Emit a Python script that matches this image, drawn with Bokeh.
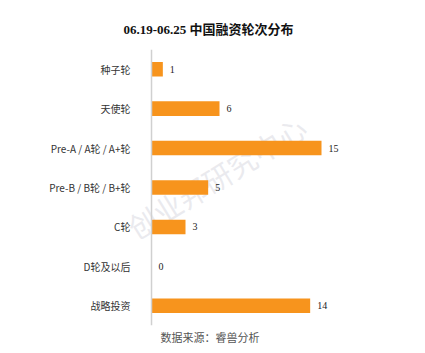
from bokeh.plotting import figure
from bokeh.models import ColumnDataSource, Range1d, Title, Label, LabelSet, Span
from bokeh.embed import file_html
from bokeh.resources import INLINE

categories = ["种子轮", "天使轮", "Pre-A / A轮 / A+轮", "Pre-B / B轮 / B+轮", "C轮", "D轮及以后", "战略投资"]
counts = [1, 6, 15, 5, 3, 0, 14]
title_text = "06.19-06.25 中国融资轮次分布"
source_text = "数据来源：睿兽分析"
watermark_text = "创业邦研究中心"

factors = list(reversed(categories))
src = ColumnDataSource(dict(cat=categories, val=counts, lab=[str(v) for v in counts]))

p = figure(width=417, height=345, y_range=factors, x_range=Range1d(-2.03, 23.47),
           output_backend="svg", toolbar_location=None,
           min_border_left=128, min_border_right=0, min_border_top=49, min_border_bottom=10)
p.outline_line_color = None
p.background_fill_color = "white"
p.border_fill_color = "white"
p.xgrid.visible = False
p.ygrid.visible = False
p.xaxis.visible = False

ax = p.yaxis[0]
ax.axis_line_color = None
ax.major_tick_line_color = None
ax.minor_tick_line_color = None
ax.major_label_standoff = -8
ax.major_label_text_font = "Noto Sans CJK SC"
ax.major_label_text_font_size = "10px"
ax.major_label_text_color = "#333333"

# watermark (behind bars)
wm = Label(x=5.74, y=3.78, text=watermark_text, angle=0.55, text_align="center",
           text_baseline="middle", text_font="Noto Sans CJK SC", text_font_size="29px",
           text_color="#dcdce4", text_alpha=0.6, level="underlay")
p.add_layout(wm)

p.hbar(y="cat", right="val", left=0, height=0.37, source=src, color="#F7941D", line_color=None)

axis_line = Span(location=0, dimension="height", line_color="#d0d0d0", line_width=1.5)
p.add_layout(axis_line)

labels = LabelSet(x="val", y="cat", text="lab", source=src, x_offset=7, text_baseline="middle",
                  text_font="Liberation Serif", text_font_size="10px", text_color="#222222")
p.add_layout(labels)

t = Title(text=title_text, align="left", offset=-5, standoff=26,
          text_font="'Liberation Serif', 'Noto Sans CJK SC'", text_font_size="13px",
          text_font_style="bold", text_color="#111111")
p.add_layout(t, "above")

s = Title(text=source_text, align="left", offset=32, standoff=2,
          text_font="Noto Sans CJK SC", text_font_size="11px", text_font_style="normal",
          text_color="#555555")
p.add_layout(s, "below")

open("out.html", "w").write(file_html(p, INLINE))
